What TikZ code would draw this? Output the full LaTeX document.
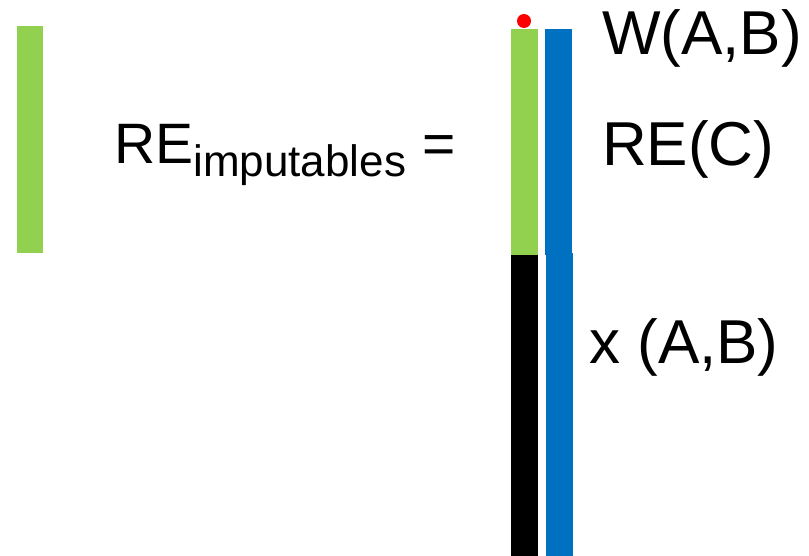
\documentclass[tikz,border=0pt]{standalone}
\usepackage{fontspec}
\setmainfont{Liberation Sans}
\usepackage{tikz}
\usetikzlibrary{positioning}
\definecolor{barg}{HTML}{92D050}
\definecolor{barb}{HTML}{0070C0}
\definecolor{dotr}{HTML}{FF0000}

\begin{document}
\begin{tikzpicture}[
  x=1pt, y=-1pt,
  lbl/.style={inner sep=0pt, anchor=base west, font=\fontsize{62}{68}\selectfont},
  green/.style={fill=barg},
  blue/.style={fill=barb},
  blk/.style={fill=black}
]
\useasboundingbox (0,0) rectangle (809,556);

% --- left: the imputable part ---
\fill[green] (16.5,26.5) rectangle (43,253);
\node[lbl, font=\fontsize{57}{62}\selectfont] (re) at (114,164)
  {RE\raisebox{-13pt}{\fontsize{44}{48}\selectfont imputables} =};

% --- right: the split bars ---
\fill[green] (511,29) rectangle (537.5,255.5);
\fill[blk]   (511,255.5) rectangle (537.5,556);
\fill[blue]  (545,29) rectangle (572,255);
\fill[blue]  (546,253) rectangle (573,556);
\fill[dotr]  (524,21) circle (7);

\node[lbl] (w)  at (602,55)  {W(A,B)};
\node[lbl] (rc) at (602,166) {RE(C)};
\node[lbl] (x)  at (589,363) {x (A,B)};
\end{tikzpicture}
\end{document}
